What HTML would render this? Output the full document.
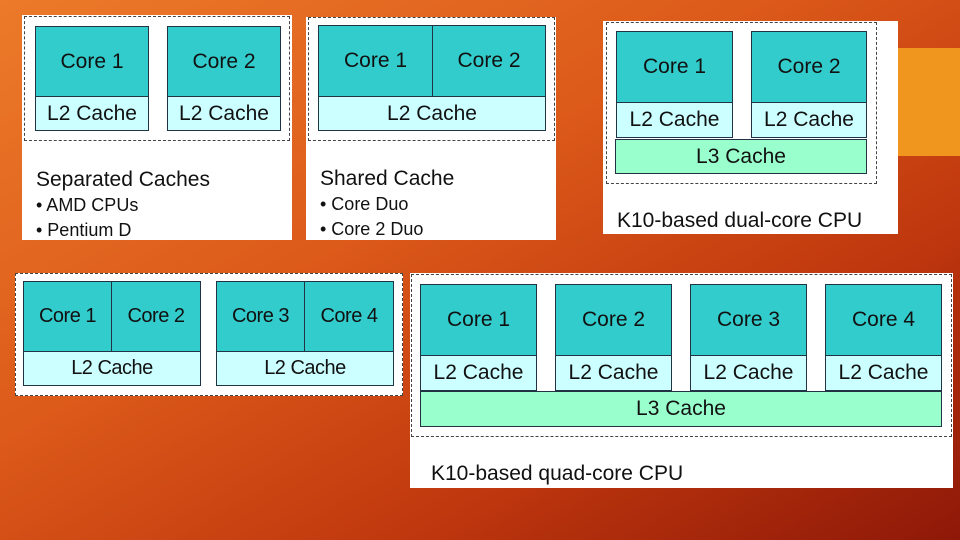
<!DOCTYPE html>
<html><head><meta charset="utf-8"><style>
*{margin:0;padding:0;box-sizing:border-box}
body{width:960px;height:540px;overflow:hidden;position:relative;font-family:"Liberation Sans",sans-serif;
background:linear-gradient(150deg,#ec7a2a 0%,#dc5a1a 40%,#c0380e 70%,#8e1808 100%)}
.a{position:absolute}
.w{position:absolute;background:#fff}
.d{position:absolute;border:1px dashed #444}
.b{position:absolute;border:1px solid #234;display:flex;align-items:center;justify-content:center;color:#111}
.c{background:#33cccc}
.l2{background:#ccffff}
.l3{background:#99ffcc}
.t{position:absolute;color:#111;white-space:nowrap}
.n{font-size:20px;letter-spacing:-0.5px}
</style></head><body>
<div class="a" style="left:898px;top:48px;width:62px;height:108px;background:#f0961e"></div>

<div class="w" style="left:22px;top:15px;width:270px;height:225px"></div>
<div class="d" style="left:24px;top:16px;width:266px;height:125px"></div>
<div class="b c" style="left:35px;top:26px;width:114px;height:71px;font-size:21px">Core 1</div>
<div class="b l2" style="left:35px;top:96px;width:114px;height:35px;font-size:21px">L2 Cache</div>
<div class="b c" style="left:167px;top:26px;width:114px;height:71px;font-size:21px">Core 2</div>
<div class="b l2" style="left:167px;top:96px;width:114px;height:35px;font-size:21px">L2 Cache</div>
<div class="t" style="left:36px;top:168px;font-size:21px">Separated Caches</div>
<div class="t" style="left:36px;top:195px;font-size:18px">• AMD CPUs</div>
<div class="t" style="left:36px;top:220px;font-size:18px">• Pentium D</div>

<div class="w" style="left:306px;top:17px;width:250px;height:223px"></div>
<div class="d" style="left:308px;top:17px;width:247px;height:124px"></div>
<div class="b c" style="left:318px;top:25px;width:115px;height:72px;font-size:21px">Core 1</div>
<div class="b c" style="left:432px;top:25px;width:114px;height:72px;font-size:21px">Core 2</div>
<div class="b l2" style="left:318px;top:96px;width:228px;height:35px;font-size:21px">L2 Cache</div>
<div class="t" style="left:320px;top:167px;font-size:21px">Shared Cache</div>
<div class="t" style="left:320px;top:194px;font-size:18px">• Core Duo</div>
<div class="t" style="left:320px;top:219px;font-size:18px">• Core 2 Duo</div>

<div class="w" style="left:603px;top:21px;width:295px;height:213px"></div>
<div class="d" style="left:606px;top:22px;width:271px;height:162px"></div>
<div class="b c" style="left:616px;top:31px;width:117px;height:72px;font-size:21px">Core 1</div>
<div class="b l2" style="left:616px;top:102px;width:117px;height:36px;font-size:21px">L2 Cache</div>
<div class="b c" style="left:751px;top:31px;width:116px;height:72px;font-size:21px">Core 2</div>
<div class="b l2" style="left:751px;top:102px;width:116px;height:36px;font-size:21px">L2 Cache</div>
<div class="b l3" style="left:615px;top:139px;width:252px;height:35px;font-size:21px">L3 Cache</div>
<div class="t" style="left:617px;top:209px;font-size:21px">K10-based dual-core CPU</div>

<div class="w" style="left:15px;top:273px;width:388px;height:123px"></div>
<div class="d" style="left:15px;top:273px;width:388px;height:123px"></div>
<div class="b c n" style="left:23px;top:281px;width:89px;height:71px">Core 1</div>
<div class="b c n" style="left:111px;top:281px;width:90px;height:71px">Core 2</div>
<div class="b l2 n" style="left:23px;top:351px;width:178px;height:35px">L2 Cache</div>
<div class="b c n" style="left:216px;top:281px;width:89px;height:71px">Core 3</div>
<div class="b c n" style="left:304px;top:281px;width:90px;height:71px">Core 4</div>
<div class="b l2 n" style="left:216px;top:351px;width:178px;height:35px">L2 Cache</div>

<div class="w" style="left:410px;top:273px;width:543px;height:215px"></div>
<div class="d" style="left:411px;top:274px;width:541px;height:163px"></div>
<div class="b c" style="left:420px;top:284px;width:117px;height:72px;font-size:21px">Core 1</div>
<div class="b l2" style="left:420px;top:355px;width:117px;height:36px;font-size:21px">L2 Cache</div>
<div class="b c" style="left:555px;top:284px;width:117px;height:72px;font-size:21px">Core 2</div>
<div class="b l2" style="left:555px;top:355px;width:117px;height:36px;font-size:21px">L2 Cache</div>
<div class="b c" style="left:690px;top:284px;width:117px;height:72px;font-size:21px">Core 3</div>
<div class="b l2" style="left:690px;top:355px;width:117px;height:36px;font-size:21px">L2 Cache</div>
<div class="b c" style="left:825px;top:284px;width:117px;height:72px;font-size:21px">Core 4</div>
<div class="b l2" style="left:825px;top:355px;width:117px;height:36px;font-size:21px">L2 Cache</div>
<div class="b l3" style="left:420px;top:391px;width:522px;height:36px;font-size:21px">L3 Cache</div>
<div class="t" style="left:431px;top:462px;font-size:21px">K10-based quad-core CPU</div>
</body></html>
